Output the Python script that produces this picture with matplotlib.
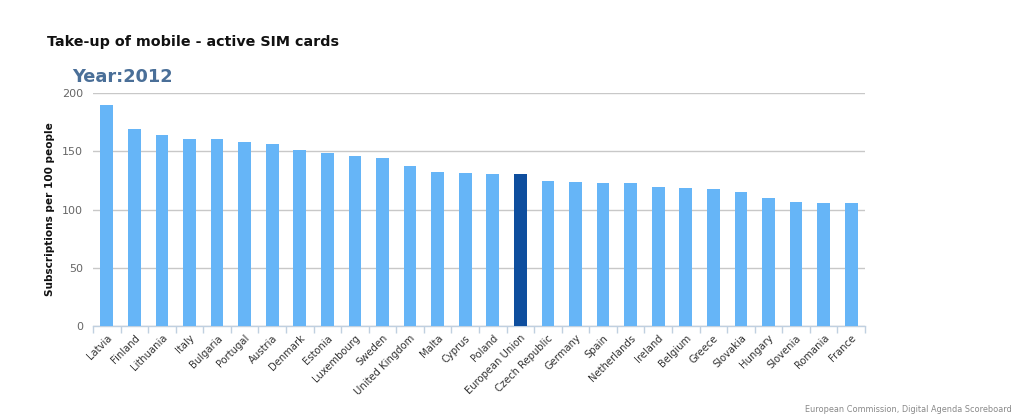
import matplotlib
matplotlib.use("Agg")
import matplotlib.pyplot as plt
import numpy as np

countries = ["Latvia", "Finland", "Lithuania", "Italy", "Bulgaria", "Portugal", "Austria",
             "Denmark", "Estonia", "Luxembourg", "Sweden", "United Kingdom", "Malta", "Cyprus",
             "Poland", "European Union", "Czech Republic", "Germany", "Spain", "Netherlands",
             "Ireland", "Belgium", "Greece", "Slovakia", "Hungary", "Slovenia", "Romania", "France"]
values = [190.0, 169.0, 164.1, 160.1, 160.1, 157.8, 156.4, 151.5, 148.1, 145.8, 144.0, 137.7,
          132.3, 131.1, 130.3, 130.3, 124.8, 124.0, 123.1, 123.1, 119.1, 118.2, 117.6, 115.1,
          110.2, 106.2, 105.6, 105.6]
highlight = "European Union"
yticks = [0, 50, 100, 150, 200]

plt.rcParams['font.family'] = ['DejaVu Sans']
fig = plt.figure(figsize=(10.24, 4.19), dpi=100)
ax = fig.add_axes([93/1024, 1-326/419, (865-93)/1024, (326-93)/419])

x = np.arange(len(countries))
colors = ["#0e4e9e" if c == highlight else "#66b5f7" for c in countries]
ax.bar(x, values, width=0.46, color=colors, zorder=3)

ax.set_xlim(-0.5, len(countries) - 0.5)
ax.set_ylim(0, 200)
ax.set_yticks(yticks)
ax.set_yticklabels([str(t) for t in yticks], fontsize=8, color="#666666")
ax.grid(axis="y", color="#c8c8c8", linewidth=1, zorder=0)
ax.tick_params(axis="y", length=0, pad=7)

ax.set_xticks(x)
ax.set_xticklabels(countries, rotation=45, ha="right", rotation_mode="anchor",
                   fontsize=7.2, color="#333333")
ax.tick_params(axis="x", which="major", length=0, pad=5)
ax.set_xticks(np.arange(-0.5, len(countries), 1), minor=True)
ax.tick_params(axis="x", which="minor", length=5, color="#c0d0e0", width=1)

for s in ["top", "right", "left"]:
    ax.spines[s].set_visible(False)
ax.spines["bottom"].set_color("#c0d0e0")
ax.spines["bottom"].set_linewidth(1)

ax.set_ylabel("Subscriptions per 100 people", fontsize=7.6, fontweight="bold", color="#111111")
ax.yaxis.set_label_coords((55 - 93) / (865 - 93), 0.5)

fig.text(47/1024, 1-42/419, "Take-up of mobile - active SIM cards", fontsize=10.3,
         fontweight="bold", color="#111111", va="center", ha="left")
fig.text(72/1024, 1-77/419, "Year:2012", fontsize=12.8, fontweight="bold",
         color="#4a6f98", va="center", ha="left")
fig.text(1012/1024, 1-409/419, "European Commission, Digital Agenda Scoreboard", fontsize=5.9,
         color="#888888", va="center", ha="right")

fig.savefig("out.png", dpi=100)
